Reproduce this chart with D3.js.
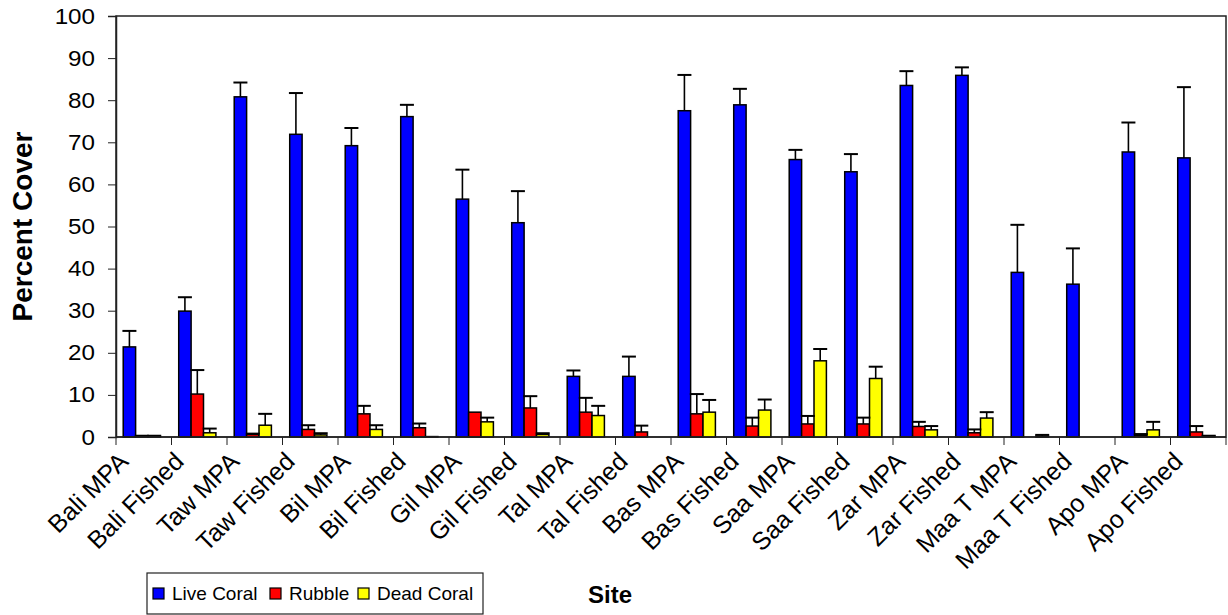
<!DOCTYPE html>
<html>
<head>
<meta charset="utf-8">
<script src="https://cdn.jsdelivr.net/npm/d3@7"></script>
<style>
  body { margin: 0; background: #fff; }
  svg text { font-family: Arial, "Liberation Sans", sans-serif; fill: #000; }
</style>
</head>
<body>
<div id="chart"></div>
<script>
// sites on the x axis
let sites = ["Bali MPA", "Bali Fished", "Taw MPA", "Taw Fished", "Bil MPA", "Bil Fished",
    "Gil MPA", "Gil Fished", "Tal MPA", "Tal Fished", "Bas MPA", "Bas Fished",
    "Saa MPA", "Saa Fished", "Zar MPA", "Zar Fished", "Maa T MPA", "Maa T Fished",
    "Apo MPA", "Apo Fished"];

let seriesNames = ["Live Coral", "Rubble", "Dead Coral"];
let seriesColors = ["#0000ff", "#ff0000", "#ffff00"];

// mean percent cover
let liveCoral = [21.4, 29.9, 80.8, 71.9, 69.2, 76.1, 56.5, 50.9, 14.4, 14.4,
    77.5, 78.9, 65.9, 63.0, 83.5, 85.9, 39.1, 36.3, 67.7, 66.3];
let rubble = [0.2, 10.2, 0.6, 1.8, 5.5, 2.2, 5.9, 6.9, 5.9, 1.2,
    5.5, 2.6, 3.1, 3.1, 2.5, 1.0, 0, 0, 0.4, 1.2];
let deadCoral = [0.2, 1.0, 2.8, 0.5, 1.8, 0.1, 3.6, 0.6, 5.1, 0,
    5.9, 6.4, 18.1, 13.9, 1.7, 4.5, 0.2, 0, 1.7, 0.2];

// standard error (upper bar only)
let liveCoralSE = [3.8, 3.3, 3.4, 9.8, 4.2, 2.8, 7.0, 7.5, 1.4, 4.7,
    8.5, 3.8, 2.3, 4.2, 3.4, 1.9, 11.3, 8.5, 7.0, 16.8];
let rubbleSE = [0.1, 5.7, 0.2, 1.0, 1.9, 1.0, 0, 2.8, 3.4, 1.5,
    4.7, 2.0, 1.9, 1.5, 1.1, 0.8, 0, 0, 0.3, 1.4];
let deadCoralSE = [0.1, 1.0, 2.7, 0.4, 1.0, 0, 1.0, 0.3, 2.3, 0,
    2.9, 2.5, 2.8, 2.8, 0.9, 1.4, 0.3, 0, 1.9, 0.1];

let yTicks = [0, 10, 20, 30, 40, 50, 60, 70, 80, 90, 100];

let means = [liveCoral, rubble, deadCoral];
let errors = [liveCoralSE, rubbleSE, deadCoralSE];

// set the dimensions and margins of the graph
let margin = {top: 16, right: 2, bottom: 178, left: 116},
    width = 1228 - margin.left - margin.right,
    height = 615 - margin.top - margin.bottom;

let svg = d3.select("#chart")
    .append("svg")
    .attr("width", 1228)
    .attr("height", 615)
    .append("g")
    .attr("transform", "translate(" + margin.left + "," + margin.top + ")");

// flatten into rows for drawing
let rows = [];
sites.forEach(function(site, i) {
    seriesNames.forEach(function(s, j) {
        rows.push({site: site, series: s, idx: j, value: means[j][i], se: errors[j][i]});
    });
});

let x = d3.scaleBand().domain(sites).range([0, width]);
let bw = x.bandwidth();
let x1 = d3.scaleBand().domain(seriesNames).range([bw * 0.13, bw * 0.8]);

let y = d3.scaleLinear().domain([0, 100]).range([height, 0]);

// plot frame (top and right edges)
svg.append("rect")
    .attr("x", 0).attr("y", 0)
    .attr("width", width).attr("height", height)
    .attr("fill", "none")
    .attr("stroke", "#222")
    .attr("stroke-width", 1.5);

// bars
svg.selectAll(".bar")
    .data(rows)
    .enter()
    .append("rect")
    .attr("class", "bar")
    .attr("x", function(d) { return x(d.site) + x1(d.series); })
    .attr("y", function(d) { return y(d.value); })
    .attr("width", x1.bandwidth())
    .attr("height", function(d) { return height - y(d.value); })
    .attr("fill", function(d) { return seriesColors[d.idx]; })
    .attr("stroke", "#000")
    .attr("stroke-width", 1.5);

// error bars
let errRows = rows.filter(function(d) { return d.se > 0; });
let errG = svg.selectAll(".err")
    .data(errRows)
    .enter()
    .append("g")
    .attr("class", "err")
    .attr("stroke", "#000")
    .attr("stroke-width", 1.6);
errG.append("line")
    .attr("x1", function(d) { return x(d.site) + x1(d.series) + x1.bandwidth() / 2; })
    .attr("x2", function(d) { return x(d.site) + x1(d.series) + x1.bandwidth() / 2; })
    .attr("y1", function(d) { return y(d.value); })
    .attr("y2", function(d) { return y(d.value + d.se); });
errG.append("line")
    .attr("x1", function(d) { return x(d.site) + x1(d.series) + x1.bandwidth() / 2 - 7; })
    .attr("x2", function(d) { return x(d.site) + x1(d.series) + x1.bandwidth() / 2 + 7; })
    .attr("y1", function(d) { return y(d.value + d.se); })
    .attr("y2", function(d) { return y(d.value + d.se); })
    .attr("stroke-width", 2);

// Y axis
let yAxis = svg.append("g")
    .call(d3.axisLeft(y).tickValues(yTicks).tickSize(8).tickPadding(13));
yAxis.select(".domain").attr("stroke", "#222").attr("stroke-width", 1.5);
yAxis.selectAll("line").attr("stroke", "#222");
// labels look slightly wide in the original, stretch a bit
yAxis.selectAll("text")
    .attr("x", 0)
    .attr("transform", "translate(-21,0) scale(1.1,1)")
    .style("font-size", "22px")
    .attr("font-family", null);

// X axis: ticks at category boundaries
let xAxis = svg.append("g")
    .attr("transform", "translate(0," + height + ")");
xAxis.append("line")
    .attr("x1", 0).attr("x2", width)
    .attr("stroke", "#222").attr("stroke-width", 1.5);
xAxis.selectAll(".xtick")
    .data(sites.concat(["end"]))
    .enter()
    .append("line")
    .attr("class", "xtick")
    .attr("x1", function(d, i) { return i < sites.length ? x(d) : width; })
    .attr("x2", function(d, i) { return i < sites.length ? x(d) : width; })
    .attr("y1", 0).attr("y2", 8)
    .attr("stroke", "#222");
xAxis.selectAll(".xlabel")
    .data(sites)
    .enter()
    .append("text")
    .attr("class", "xlabel")
    .attr("text-anchor", "end")
    .style("font-size", "25px")
    .attr("transform", function(d) {
        return "translate(" + (x(d) + bw / 2 - 14) + "," + 26 + ") rotate(-45)";
    })
    .text(function(d) { return d; });

// Y axis label
svg.append("text")
    .attr("transform", "translate(" + (-margin.left + 32) + "," + (height / 2) + ") rotate(-90)")
    .attr("text-anchor", "middle")
    .style("font-size", "28px")
    .style("font-weight", "bold")
    .text("Percent Cover");

// X axis label
svg.append("text")
    .attr("x", 610 - margin.left)
    .attr("y", 603 - margin.top)
    .attr("text-anchor", "middle")
    .style("font-size", "24px")
    .style("font-weight", "bold")
    .text("Site");

// legend
let legend = d3.select("svg").append("g")
    .attr("transform", "translate(147,573)");
legend.append("rect")
    .attr("x", 0).attr("y", 0)
    .attr("width", 336).attr("height", 41)
    .attr("fill", "#fff")
    .attr("stroke", "#222")
    .attr("stroke-width", 1.2);
let legendX = [6, 123, 211];
let legendItems = legend.selectAll(".leg")
    .data(seriesNames)
    .enter()
    .append("g")
    .attr("class", "leg")
    .attr("transform", function(d, i) { return "translate(" + legendX[i] + ",0)"; });
legendItems.append("rect")
    .attr("x", 0).attr("y", 15)
    .attr("width", 11).attr("height", 11)
    .attr("fill", function(d, i) { return seriesColors[i]; })
    .attr("stroke", "#000")
    .attr("stroke-width", 1.2);
legendItems.append("text")
    .attr("x", 19)
    .attr("y", 27)
    .style("font-size", "19px")
    .text(function(d) { return d; });
</script>
</body>
</html>
